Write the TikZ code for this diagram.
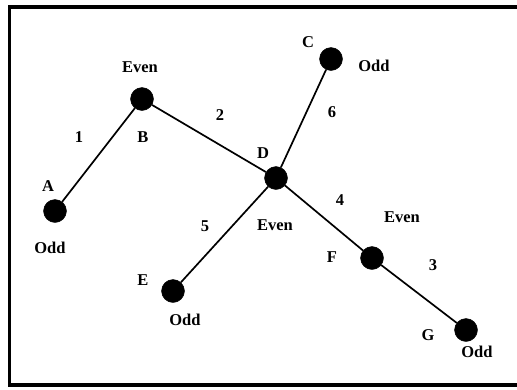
\documentclass[tikz,border=0pt]{standalone}
\usepackage{fontspec}
\setmainfont{Liberation Serif}
\tikzset{
  vtx/.style={circle, draw=black, fill=black, inner sep=0pt, minimum size=#1},
  vtx/.default=23pt,
  lbl/.style={inner sep=0pt, font=\fontsize{16.5}{16.5}\selectfont\bfseries},
  edge/.style={draw=black, line width=1.7pt},
  frame/.style={draw=black, line width=3.5pt},
}
\begin{document}
\begin{tikzpicture}[x=1pt, y=-1pt]
  \useasboundingbox (0,0) rectangle (517,389);
  \draw[frame] (520,7) -- (9.5,7) -- (9.5,385) -- (520,385);

  % vertices
  \node[vtx] (A) at (55,211) {};
  \node[vtx] (B) at (142,99) {};
  \node[vtx] (C) at (331,59) {};
  \node[vtx] (D) at (276,178) {};
  \node[vtx] (E) at (173,291) {};
  \node[vtx] (F) at (372,258) {};
  \node[vtx] (G) at (466,330) {};

  % edges
  \draw[edge] (A) -- (B);
  \draw[edge] (B) -- (D);
  \draw[edge] (C) -- (D);
  \draw[edge] (D) -- (E);
  \draw[edge] (D) -- (F);
  \draw[edge] (F) -- (G);

  % names
  \node[lbl] (nA) at (48,186) {A};
  \node[lbl] (nB) at (143,137) {B};
  \node[lbl] (nC) at (308,42) {C};
  \node[lbl] (nD) at (263,153) {D};
  \node[lbl] (nE) at (143,280) {E};
  \node[lbl] (nF) at (332,257) {F};
  \node[lbl] (nG) at (428,335) {G};

  % edge numbers
  \node[lbl] (w1) at (79,137) {1};
  \node[lbl] (w2) at (220,115) {2};
  \node[lbl] (w3) at (433,265) {3};
  \node[lbl] (w4) at (340,200) {4};
  \node[lbl] (w5) at (205,226) {5};
  \node[lbl] (w6) at (332,112) {6};

  % parity
  \node[lbl] (pA) at (50,248) {Odd};
  \node[lbl] (pB) at (140,67) {Even};
  \node[lbl] (pC) at (374,66) {Odd};
  \node[lbl] (pD) at (275,225) {Even};
  \node[lbl] (pE) at (185,320) {Odd};
  \node[lbl] (pF) at (402,217) {Even};
  \node[lbl] (pG) at (477,352) {Odd};
\end{tikzpicture}
\end{document}
